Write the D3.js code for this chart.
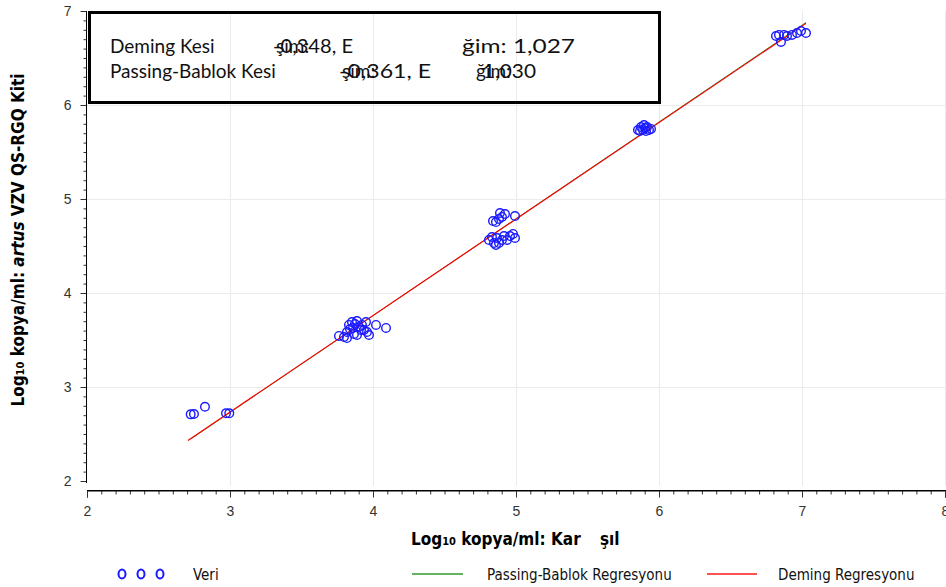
<!DOCTYPE html>
<html>
<head>
<meta charset="utf-8">
<script src="https://cdn.jsdelivr.net/npm/d3@7"></script>
<style>
  html, body { margin: 0; padding: 0; background: #fff; }
  svg { display: block; }
  .cond { font-family: "Liberation Sans Narrow", "DejaVu Sans Condensed", "Roboto", sans-serif; }
  .box { font-family: "Lato", "Noto Sans", sans-serif; }
</style>
</head>
<body>
<svg id="chart" width="946" height="587"></svg>
<script>
// Reference method (x) vs kit (y), log10 copies/ml
const refValues = [
  2.725, 2.748, 2.825, 2.972, 2.995,
  3.762, 3.797, 3.818, 3.832, 3.853, 3.874, 3.888, 3.902, 3.923, 3.937, 3.867,
  3.888, 3.958, 3.972, 4.021, 4.091, 3.818, 3.916, 3.951, 3.839, 3.860,
  4.860, 4.881, 4.902, 4.888, 4.923, 4.839, 4.993,
  4.811, 4.832, 4.846, 4.867, 4.881, 4.902, 4.916, 4.937, 4.958, 4.979, 4.993, 4.860,
  5.853, 5.874, 5.895, 5.916, 5.930, 5.888, 5.909, 5.867, 5.902, 5.944,
  6.818, 6.839, 6.853, 6.895, 6.930, 6.965, 6.993, 7.028, 6.874
];
const kitValues = [
  2.709, 2.713, 2.790, 2.720, 2.720,
  3.543, 3.532, 3.585, 3.660, 3.691, 3.670, 3.702, 3.638, 3.660, 3.606, 3.564,
  3.553, 3.585, 3.553, 3.660, 3.628, 3.521, 3.606, 3.691, 3.617, 3.628,
  4.755, 4.787, 4.809, 4.851, 4.840, 4.766, 4.819,
  4.564, 4.596, 4.532, 4.585, 4.532, 4.564, 4.606, 4.564, 4.606, 4.628, 4.585, 4.511,
  5.734, 5.766, 5.787, 5.766, 5.734, 5.734, 5.723, 5.723, 5.755, 5.745,
  6.734, 6.745, 6.670, 6.734, 6.745, 6.766, 6.787, 6.766, 6.745
];

// Regression fits: [intercept, slope] and x-range of the drawn line
const demingFit = [-0.348, 1.027];
const demingRange = [2.706, 7.028];
const passingBablokFit = [-0.361, 1.030];
const passingBablokRange = [2.725, 7.028];

const xTicks = [2, 3, 4, 5, 6, 7, 8];
const yTicks = [2, 3, 4, 5, 6, 7];

const svg = d3.select("#chart");
const x = d3.scaleLinear().domain([2, 8]).range([87, 945]);
const y = d3.scaleLinear().domain([2, 7]).range([481, 11]);

// light grid
const grid = svg.append("g").attr("stroke", "#ebebeb").attr("stroke-width", 1);
xTicks.filter(d => d > 2).forEach(d => {
  grid.append("line").attr("x1", x(d) + 0.5).attr("x2", x(d) + 0.5).attr("y1", 11).attr("y2", 486);
});
yTicks.filter(d => d > 2 && d < 7).forEach(d => {
  grid.append("line").attr("x1", 87).attr("x2", 946).attr("y1", y(d) + 0.5).attr("y2", y(d) + 0.5);
});

// axes
const minorX = d3.range(2, 8.0001, 0.1);
const minorY = d3.range(2, 7.0001, 0.1);
const xAxis = svg.append("g").attr("class", "cond").attr("transform", "translate(0,490.5)")
  .call(d3.axisBottom(x).tickValues(minorX).tickSize(4).tickFormat(""))
  .call(g => g.select(".domain").remove());
xAxis.append("g")
  .call(d3.axisBottom(x).tickValues(xTicks).tickSize(7).tickPadding(9).tickFormat(d3.format("d")))
  .call(g => g.selectAll("text").attr("font-size", 14).attr("fill", "#333").attr("font-family", "inherit"));
xAxis.append("line").attr("x1", 87).attr("x2", 946).attr("stroke", "#000");
xAxis.selectAll(".tick line").attr("stroke", "#333");

const yAxis = svg.append("g").attr("class", "cond").attr("transform", "translate(86.5,0)")
  .call(d3.axisLeft(y).tickValues(minorY).tickSize(3).tickFormat(""))
  .call(g => g.select(".domain").remove());
yAxis.append("g")
  .call(d3.axisLeft(y).tickValues(yTicks).tickSize(6).tickPadding(9).tickFormat(d3.format("d")))
  .call(g => g.selectAll("text").attr("font-size", 14).attr("fill", "#333").attr("font-family", "inherit"))
  .call(g => g.select(".domain").remove());
yAxis.append("line").attr("y1", 11).attr("y2", 483).attr("stroke", "#000");
yAxis.selectAll(".tick line").attr("stroke", "#333");

// regression lines (Deming drawn on top)
const fitLine = (fit, range) => range.map(v => [x(v), y(fit[0] + fit[1] * v)]);
svg.append("path").attr("d", d3.line()(fitLine(passingBablokFit, passingBablokRange)))
  .attr("stroke", "#2e9a2e").attr("stroke-width", 1).attr("fill", "none");
svg.append("path").attr("d", d3.line()(fitLine(demingFit, demingRange)))
  .attr("stroke", "#ff0000").attr("stroke-width", 1.2).attr("fill", "none");

// data points
svg.append("g").selectAll("circle").data(refValues.map((v, i) => [v, kitValues[i]]))
  .join("circle")
  .attr("cx", d => x(d[0])).attr("cy", d => y(d[1])).attr("r", 4.3)
  .attr("fill", "none").attr("stroke", "#1a1aff").attr("stroke-width", 1.4);

// statistics box
svg.append("rect").attr("x", 89.5).attr("y", 12.5).attr("width", 570).attr("height", 90)
  .attr("fill", "none").attr("stroke", "#000").attr("stroke-width", 3);
const box = svg.append("g").attr("class", "box").attr("font-size", 19).attr("fill", "#111");
// [text, x, baseline, width or null for natural width]
const boxText = [
  ["Deming Kesi", 110, 53, null], ["şim:", 276, 53, null], ["-0,348, E", 273, 53, 80],
  ["ğim: 1,027", 462, 53, 113],
  ["Passing-Bablok Kesi", 110, 78, null], ["şim:", 342, 78, null], ["-0,361, E", 339, 78, 92],
  ["ğim:", 476, 78, null], ["1,030", 483, 78, 53]
];
boxText.forEach(([t, tx, ty, w]) => {
  const el = box.append("text").attr("x", tx).attr("y", ty).text(t);
  if (w) el.attr("textLength", w).attr("lengthAdjust", "spacingAndGlyphs");
});

// axis titles
const xTitle = svg.append("text").attr("class", "cond").attr("x", 411).attr("y", 545)
  .attr("font-size", 17).attr("font-weight", "bold").attr("fill", "#000");
xTitle.append("tspan").text("Log");
xTitle.append("tspan").attr("font-size", 11).text("10");
xTitle.append("tspan").text(" kopya/ml: Kar");
svg.append("text").attr("class", "cond").attr("x", 600).attr("y", 545)
  .attr("font-size", 17).attr("font-weight", "bold").text("şıl");

const yTitle = svg.append("text").attr("class", "cond")
  .attr("transform", "translate(24,240) rotate(-90)").attr("text-anchor", "middle")
  .attr("font-size", 17).attr("font-weight", "bold").attr("fill", "#000");
yTitle.append("tspan").text("Log");
yTitle.append("tspan").attr("font-size", 11).text("10");
yTitle.append("tspan").text(" kopya/ml: ");
yTitle.append("tspan").attr("font-style", "italic").text("artus");
yTitle.append("tspan").text(" VZV QS-RGQ Kiti");

// legend
const legend = svg.append("g").attr("class", "cond").attr("font-size", 15).attr("fill", "#111");
[122, 141, 160].forEach(cx => legend.append("ellipse").attr("cx", cx).attr("cy", 574)
  .attr("rx", 3.5).attr("ry", 4.5).attr("fill", "none").attr("stroke", "#1a1aff").attr("stroke-width", 2));
legend.append("text").attr("x", 193).attr("y", 580).text("Veri");
legend.append("line").attr("x1", 412).attr("x2", 463).attr("y1", 574).attr("y2", 574)
  .attr("stroke", "#2e9a2e").attr("stroke-width", 1.5);
legend.append("text").attr("x", 487).attr("y", 580).text("Passing-Bablok Regresyonu");
legend.append("line").attr("x1", 707).attr("x2", 757).attr("y1", 574).attr("y2", 574)
  .attr("stroke", "#ff1a1a").attr("stroke-width", 1.5);
legend.append("text").attr("x", 778).attr("y", 580).text("Deming Regresyonu");
</script>
</body>
</html>
